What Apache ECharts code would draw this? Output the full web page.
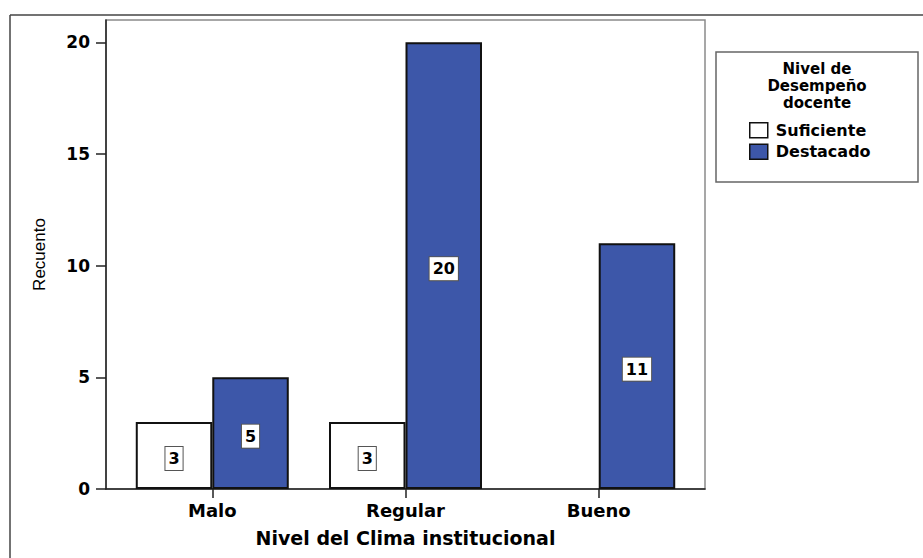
<!DOCTYPE html>
<html>
<head>
<meta charset="utf-8">
<title>Nivel del Clima institucional</title>
<script src="https://cdn.jsdelivr.net/npm/echarts@6/dist/echarts.min.js"></script>
<style>
  html, body { margin: 0; padding: 0; background: #fff; }
  #chart { width: 923px; height: 558px; }
</style>
</head>
<body>
<div id="chart"></div>
<script>
// Categories on the x axis
const categories = ['Malo', 'Regular', 'Bueno'];
// Counts per performance level
const suficiente = [3, 3, 0];
const destacado = [5, 20, 11];
// Series names and legend heading
const seriesNames = ['Suficiente', 'Destacado'];
const legendTitle = 'Nivel de\nDesempeño\ndocente';
// Y axis tick values
const yTicks = [0, 5, 10, 15, 20];

const FONT = '"DejaVu Sans", "Liberation Sans", sans-serif';
const BLUE = '#3d57a9';

// Bars sit on a numeric x axis at 0, 1, 2; zero counts are left empty
function toPairs(values) {
  return values.map((v, i) => [i, v === 0 ? '-' : v]);
}

const barLabel = {
  show: true,
  position: 'inside',
  offset: [0, 3],
  formatter: p => String(p.value[1]),
  color: '#000',
  fontFamily: FONT,
  fontWeight: 'bold',
  fontSize: 16,
  lineHeight: 18,
  backgroundColor: '#fff',
  borderColor: '#555',
  borderWidth: 1,
  padding: [3, 3, 2, 3]
};

const chart = echarts.init(document.getElementById('chart'), null, { renderer: 'svg' });

chart.setOption({
  animation: false,
  backgroundColor: '#fff',
  grid: {
    left: 106, right: 218, top: 20, bottom: 69,
    show: true, borderColor: '#8a8a8a', borderWidth: 1.5
  },
  xAxis: {
    type: 'value',
    min: -0.55,
    max: 2.55,
    name: 'Nivel del Clima institucional',
    nameLocation: 'middle',
    nameGap: 39,
    nameTextStyle: { color: '#000', fontFamily: FONT, fontWeight: 'bold', fontSize: 19 },
    splitLine: { show: false },
    axisLine: { show: true, onZero: false, lineStyle: { color: '#222', width: 1.5 } },
    axisTick: { show: true, length: 9, customValues: [0, 1, 2], lineStyle: { color: '#222', width: 1.5 } },
    axisLabel: {
      customValues: [0, 1, 2],
      formatter: v => categories[Math.round(v)] || '',
      margin: 12,
      color: '#000', fontFamily: FONT, fontWeight: 'bold', fontSize: 18
    }
  },
  yAxis: {
    type: 'value',
    min: 0,
    max: 21,
    name: 'Recuento',
    nameLocation: 'middle',
    nameGap: 58,
    nameTextStyle: { color: '#000', fontFamily: '"Liberation Sans", Arial, sans-serif', fontSize: 17 },
    splitLine: { show: false },
    axisLine: { show: true, onZero: false, lineStyle: { color: '#222', width: 1.5 } },
    axisTick: { show: true, length: 10, customValues: yTicks, lineStyle: { color: '#222', width: 1.5 } },
    axisLabel: {
      customValues: yTicks,
      margin: 16,
      color: '#000', fontFamily: FONT, fontWeight: 'bold', fontSize: 17
    }
  },
  legend: {
    orient: 'vertical',
    left: 749,
    top: 122,
    padding: 0,
    icon: 'rect',
    itemWidth: 18,
    itemHeight: 15,
    itemGap: 5,
    data: seriesNames,
    textStyle: { color: '#000', fontFamily: FONT, fontWeight: 'bold', fontSize: 16, padding: [0, 0, 0, 3] },
    itemStyle: { borderWidth: 1.5, borderColor: '#111' }
  },
  series: [
    {
      name: seriesNames[0],
      type: 'bar',
      data: toPairs(suficiente),
      barWidth: 76.5,
      barGap: '0%',
      itemStyle: { color: '#fff', borderColor: '#111', borderWidth: 2 },
      label: barLabel
    },
    {
      name: seriesNames[1],
      type: 'bar',
      data: toPairs(destacado),
      barWidth: 76.5,
      barGap: '0%',
      itemStyle: { color: BLUE, borderColor: '#111', borderWidth: 2 },
      label: barLabel
    }
  ],
  graphic: [
    // outer chart frame (left and top edges)
    { type: 'line', shape: { x1: 10, y1: 15, x2: 923, y2: 15 }, style: { stroke: '#444', lineWidth: 1.5 }, z: 10 },
    { type: 'line', shape: { x1: 10, y1: 15, x2: 10, y2: 558 }, style: { stroke: '#444', lineWidth: 1.5 }, z: 10 },
    // legend box
    { type: 'rect', shape: { x: 716, y: 52, width: 202, height: 130 }, style: { fill: '#fff', stroke: '#666', lineWidth: 1.5 }, z: 0 },
    // legend heading
    {
      type: 'text', x: 817, y: 60, z: 10,
      style: {
        text: legendTitle, align: 'center', verticalAlign: 'top',
        fill: '#000', font: 'bold 15px ' + FONT, lineHeight: 17
      }
    }
  ]
});
</script>
</body>
</html>
